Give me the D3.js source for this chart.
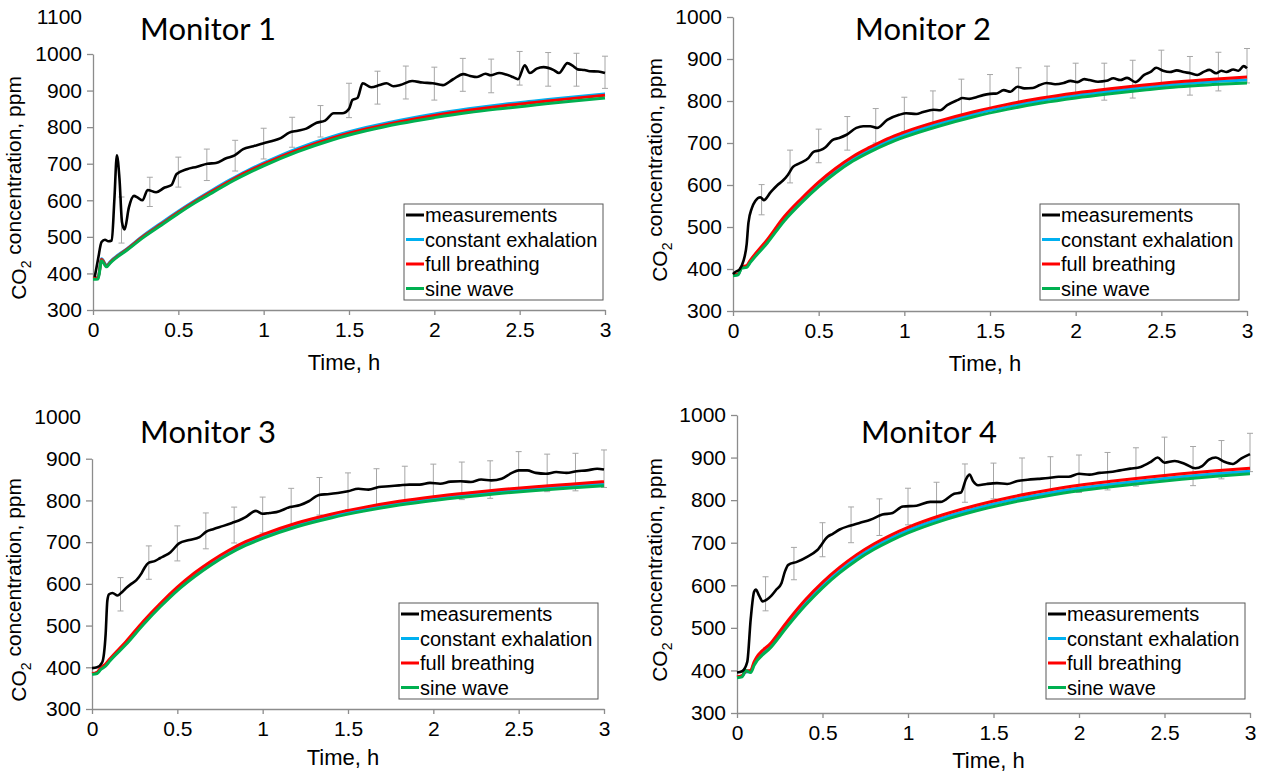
<!DOCTYPE html>
<html>
<head>
<meta charset="utf-8">
<script src="https://cdn.jsdelivr.net/npm/d3@7"></script>
<style>
body { margin: 0; background: #fff; }
svg text { font-family: "Liberation Sans", Arial, sans-serif; }
</style>
</head>
<body>
<div id="chart"></div>
<script>
'use strict';

// model runs share one time grid (h)
let modelTime = [0, 0.03, 0.05, 0.08, 0.1, 0.2, 0.3, 0.4, 0.5, 0.6, 0.7, 0.8, 0.9, 1.0, 1.2, 1.4, 1.6, 1.8, 2.0, 2.2, 2.4, 2.6, 2.8, 3.0];

let constant1 = [387, 388, 440, 422, 432, 468, 505, 538, 570, 600, 628, 655, 680, 702, 742, 774, 799, 819, 836, 850, 862, 872, 882, 891];
let breathing1 = [387, 388, 438, 420, 430, 466, 503, 535, 567, 597, 625, 652, 677, 699, 738, 770, 795, 815, 832, 846, 858, 868, 878, 887];
let sine1 = [384, 385, 435, 418, 428, 464, 500, 532, 564, 594, 621, 648, 672, 694, 733, 765, 790, 810, 826, 840, 851, 861, 871, 880];

let constant2 = [385, 387, 403, 406, 417, 465, 519, 562, 601, 634, 662, 684, 704, 720, 746, 768, 786, 801, 813, 823, 832, 840, 846, 850];
let breathing2 = [386, 388, 405, 408, 420, 470, 525, 568, 607, 640, 668, 690, 710, 726, 752, 774, 792, 807, 819, 829, 838, 846, 852, 857];
let sine2 = [384, 386, 402, 404, 415, 462, 515, 558, 596, 629, 657, 679, 698, 714, 740, 762, 780, 795, 807, 817, 826, 834, 839, 843];

let constant3 = [384, 387, 396, 405, 415, 458, 506, 549, 588, 622, 651, 676, 697, 714, 742, 763, 780, 794, 805, 814, 822, 829, 835, 840];
let breathing3 = [385, 388, 398, 408, 418, 462, 510, 553, 592, 626, 655, 680, 701, 718, 746, 767, 784, 798, 809, 818, 826, 833, 839, 845];
let sine3 = [383, 385, 394, 403, 413, 455, 502, 545, 584, 617, 646, 671, 692, 709, 737, 758, 775, 789, 800, 809, 817, 824, 830, 835];

let constant4 = [384, 387, 396, 398, 416, 460, 512, 559, 600, 635, 665, 690, 711, 729, 758, 781, 800, 815, 828, 838, 847, 855, 862, 868];
let breathing4 = [385, 388, 398, 400, 420, 465, 518, 566, 607, 642, 672, 697, 718, 736, 765, 788, 807, 822, 835, 845, 854, 862, 869, 875];
let sine4 = [383, 385, 400, 395, 412, 455, 506, 553, 594, 629, 659, 684, 705, 723, 752, 775, 794, 809, 822, 832, 841, 849, 856, 862];

// measurements (time h, ppm)
let measTime1 = [0.01, 0.03, 0.05, 0.07, 0.09, 0.11, 0.125, 0.14, 0.155, 0.17, 0.185, 0.21, 0.24, 0.26, 0.29, 0.32, 0.37, 0.42, 0.46, 0.49, 0.55, 0.61, 0.67, 0.72, 0.78, 0.83, 0.88, 0.94, 1.0, 1.05, 1.1, 1.15, 1.2, 1.25, 1.31, 1.36, 1.41, 1.46, 1.5, 1.52, 1.55, 1.58, 1.63, 1.68, 1.72, 1.76, 1.8, 1.87, 1.93, 1.99, 2.05, 2.11, 2.17, 2.21, 2.25, 2.3, 2.33, 2.38, 2.42, 2.46, 2.49, 2.53, 2.56, 2.6, 2.64, 2.7, 2.73, 2.78, 2.81, 2.84, 2.88, 2.91, 2.96, 3.0];
let meas1 = [390, 440, 486, 492, 488, 490, 600, 723, 660, 540, 520, 580, 612, 608, 600, 628, 622, 635, 642, 672, 685, 692, 700, 702, 715, 723, 740, 748, 756, 762, 770, 785, 790, 796, 812, 818, 838, 838, 850, 874, 880, 920, 909, 915, 920, 912, 915, 926, 922, 920, 915, 931, 945, 940, 937, 946, 942, 948, 944, 937, 931, 969, 948, 960, 964, 956, 948, 975, 968, 958, 956, 953, 952, 948];

let measTime2 = [0.0, 0.01, 0.04, 0.06, 0.08, 0.09, 0.11, 0.13, 0.16, 0.18, 0.22, 0.26, 0.29, 0.32, 0.35, 0.39, 0.44, 0.47, 0.51, 0.54, 0.58, 0.62, 0.66, 0.72, 0.76, 0.8, 0.84, 0.9, 0.97, 1.01, 1.07, 1.11, 1.17, 1.21, 1.25, 1.31, 1.34, 1.38, 1.42, 1.46, 1.5, 1.54, 1.58, 1.62, 1.66, 1.7, 1.75, 1.79, 1.83, 1.88, 1.93, 1.97, 2.01, 2.05, 2.08, 2.13, 2.18, 2.22, 2.26, 2.3, 2.35, 2.4, 2.44, 2.47, 2.51, 2.55, 2.59, 2.63, 2.67, 2.71, 2.75, 2.78, 2.82, 2.85, 2.88, 2.92, 2.95, 2.98, 3.0];
let meas2 = [388, 392, 400, 418, 460, 510, 545, 562, 571, 564, 583, 600, 610, 624, 643, 652, 664, 679, 683, 690, 707, 712, 719, 736, 740, 740, 736, 755, 767, 771, 769, 774, 779, 778, 790, 802, 807, 805, 809, 814, 817, 818, 826, 822, 834, 830, 831, 838, 843, 840, 843, 848, 845, 852, 850, 846, 848, 854, 850, 855, 845, 862, 870, 879, 872, 869, 873, 869, 866, 862, 870, 874, 866, 872, 869, 875, 872, 883, 878];

let measTime3 = [0.0, 0.03, 0.06, 0.08, 0.09, 0.1, 0.12, 0.15, 0.17, 0.2, 0.23, 0.26, 0.29, 0.31, 0.33, 0.37, 0.4, 0.43, 0.46, 0.51, 0.57, 0.63, 0.67, 0.71, 0.77, 0.82, 0.86, 0.9, 0.96, 1.0, 1.04, 1.08, 1.16, 1.22, 1.27, 1.33, 1.38, 1.44, 1.5, 1.56, 1.62, 1.68, 1.74, 1.8, 1.86, 1.92, 1.98, 2.04, 2.1, 2.16, 2.22, 2.28, 2.34, 2.4, 2.46, 2.5, 2.55, 2.6, 2.66, 2.72, 2.78, 2.84, 2.9, 2.96, 3.0];
let meas3 = [398, 400, 412, 480, 560, 575, 578, 572, 578, 590, 600, 609, 625, 640, 650, 655, 662, 668, 676, 697, 705, 712, 725, 731, 739, 746, 752, 760, 775, 768, 770, 772, 784, 789, 798, 813, 815, 818, 822, 828, 826, 832, 834, 836, 838, 838, 842, 840, 845, 846, 844, 850, 848, 852, 866, 872, 872, 866, 864, 868, 866, 870, 872, 876, 874];

let measTime4 = [0.0, 0.03, 0.06, 0.08, 0.1, 0.11, 0.13, 0.15, 0.17, 0.2, 0.23, 0.26, 0.28, 0.3, 0.35, 0.41, 0.47, 0.53, 0.56, 0.6, 0.66, 0.72, 0.78, 0.85, 0.91, 0.97, 1.05, 1.13, 1.19, 1.27, 1.31, 1.34, 1.36, 1.38, 1.41, 1.46, 1.52, 1.58, 1.64, 1.7, 1.76, 1.82, 1.88, 1.94, 2.0, 2.06, 2.12, 2.18, 2.24, 2.3, 2.36, 2.42, 2.46, 2.5, 2.56, 2.62, 2.68, 2.72, 2.76, 2.8, 2.85, 2.9, 2.95, 3.0];
let meas4 = [395, 398, 420, 520, 585, 590, 575, 562, 565, 575, 590, 605, 632, 648, 655, 667, 683, 714, 721, 731, 740, 747, 754, 766, 770, 785, 787, 796, 796, 815, 818, 850, 860, 845, 835, 838, 840, 838, 845, 848, 850, 852, 855, 855, 862, 860, 864, 866, 870, 874, 878, 890, 900, 888, 892, 885, 875, 880, 895, 900, 890, 885, 898, 908];

// error bars every 10 min: mean and half range
let errTime = [0.167, 0.333, 0.5, 0.667, 0.833, 1.0, 1.167, 1.333, 1.5, 1.667, 1.833, 2.0, 2.167, 2.333, 2.5, 2.667, 2.833, 3.0];
let errMean1 = [546, 623, 677, 697, 722, 755, 786, 816, 873, 908, 922, 919, 943, 940, 961, 958, 957, 950];
let errHalf1 = [63, 40, 41, 43, 42, 42, 41, 43, 47, 45, 45, 45, 45, 46, 46, 46, 45, 44];
let errMean2 = [565, 644, 693, 723, 741, 768, 781, 807, 821, 837, 840, 850, 846, 852, 877, 860, 870, 884];
let errHalf2 = [36, 39, 40, 40, 41, 41, 43, 45, 42, 42, 43, 40, 44, 45, 44, 46, 46, 41];
let errMean3 = [575, 651, 697, 727, 741, 765, 784, 810, 822, 832, 838, 843, 847, 850, 872, 866, 868, 876];
let errHalf3 = [40, 40, 42, 43, 43, 43, 45, 45, 44, 44, 44, 44, 45, 45, 45, 45, 45, 45];
let errMean4 = [580, 651, 707, 742, 760, 785, 800, 840, 845, 855, 858, 862, 868, 878, 902, 880, 895, 912];
let errHalf4 = [40, 38, 40, 42, 43, 43, 42, 45, 42, 44, 44, 44, 44, 45, 46, 46, 45, 45];

let xTicks = [0, 0.5, 1, 1.5, 2, 2.5, 3];
let seriesNames = ['measurements', 'constant exhalation', 'full breathing', 'sine wave'];
let seriesColors = ['#000000', '#00b0f0', '#ff0000', '#00b050'];

let panels = [
	{title: 'Monitor 1', meas: [measTime1, meas1], models: [constant1, breathing1, sine1], err: [errMean1, errHalf1],
		x0: 93, x1: 605, y300: 310, y1000: 54, axisTop: 1000, extra: 1100,
		titleX: 208, titleY: 40, ylabX: 19, xlabY: 370, legX: 404, legY: 204},
	{title: 'Monitor 2', meas: [measTime2, meas2], models: [constant2, breathing2, sine2], err: [errMean2, errHalf2],
		x0: 733, x1: 1247, y300: 311, y1000: 17, axisTop: 1000, extra: null,
		titleX: 923, titleY: 40, ylabX: 660, xlabY: 371, legX: 1040, legY: 204},
	{title: 'Monitor 3', meas: [measTime3, meas3], models: [constant3, breathing3, sine3], err: [errMean3, errHalf3],
		x0: 92, x1: 604, y300: 709, y1000: 417, axisTop: 900, extra: 1000,
		titleX: 208, titleY: 443, ylabX: 19, xlabY: 765, legX: 399, legY: 603},
	{title: 'Monitor 4', meas: [measTime4, meas4], models: [constant4, breathing4, sine4], err: [errMean4, errHalf4],
		x0: 737, x1: 1250, y300: 713, y1000: 415, axisTop: 1000, extra: null,
		titleX: 929, titleY: 443, ylabX: 660, xlabY: 768, legX: 1046, legY: 603}
];

let svg = d3.select('#chart').append('svg')
	.attr('width', 1261)
	.attr('height', 773);

panels.forEach(p => {
	let g = svg.append('g');
	let x = d3.scaleLinear().domain([0, 3]).range([p.x0, p.x1]);
	let y = d3.scaleLinear().domain([300, 1000]).range([p.y300, p.y1000]);
	let yAxisScale = y.copy().domain([300, p.axisTop]).range([y(300), y(p.axisTop)]);

	// axes
	let xAxis = g.append('g')
		.attr('transform', `translate(0,${p.y300})`)
		.call(d3.axisBottom(x).tickValues(xTicks).tickFormat(d3.format('')).tickSize(5).tickSizeOuter(0).tickPadding(7));
	let yAxis = g.append('g')
		.attr('transform', `translate(${p.x0},0)`)
		.call(d3.axisLeft(yAxisScale).tickValues(d3.range(300, p.axisTop + 1, 100)).tickFormat(d3.format('d')).tickSize(6).tickSizeOuter(0).tickPadding(5));
	[xAxis, yAxis].forEach(a => {
		a.select('.domain').attr('stroke', '#8c8c8c').attr('stroke-width', 1.3);
		a.selectAll('.tick line').attr('stroke', '#8c8c8c').attr('stroke-width', 1.3);
		a.selectAll('.tick text').attr('fill', '#000').style('font-size', '21px');
	});
	if (p.extra) {
		g.append('text')
			.attr('x', p.x0 - 11)
			.attr('y', y(p.extra))
			.attr('dy', '0.32em')
			.attr('text-anchor', 'end')
			.style('font-size', '21px')
			.text(p.extra);
	}

	// axis titles
	g.append('text')
		.attr('x', (p.x0 + p.x1) / 2 - 5)
		.attr('y', p.xlabY)
		.attr('text-anchor', 'middle')
		.style('font-size', '22px')
		.text('Time, h');
	let yl = g.append('text')
		.attr('transform', `translate(${p.ylabX},${(y(300) + y(p.axisTop)) / 2 + 6}) rotate(-90)`)
		.attr('text-anchor', 'middle')
		.attr('dy', '0.35em')
		.style('font-size', '21px');
	yl.append('tspan').text('CO');
	yl.append('tspan').attr('dy', '0.3em').style('font-size', '14px').text('2');
	yl.append('tspan').attr('dy', '-0.45em').text(' concentration, ppm');

	// title
	g.append('text')
		.attr('x', p.titleX)
		.attr('y', p.titleY)
		.attr('text-anchor', 'middle')
		.style('font-family', 'Lato, "Open Sans", sans-serif')
		.style('font-size', '31px')
		.text(p.title);

	// error bars
	let errs = errTime.map((t, i) => ({t: t, m: p.err[0][i], h: p.err[1][i]}));
	let eb = g.append('g').attr('stroke', '#a6a6a6').attr('stroke-width', 1);
	eb.selectAll('line.v').data(errs).join('line').classed('v', true)
		.attr('x1', d => x(d.t)).attr('x2', d => x(d.t))
		.attr('y1', d => y(d.m - d.h)).attr('y2', d => y(d.m + d.h));
	eb.selectAll('line.lo').data(errs).join('line').classed('lo', true)
		.attr('x1', d => x(d.t) - 3).attr('x2', d => x(d.t) + 3)
		.attr('y1', d => y(d.m - d.h)).attr('y2', d => y(d.m - d.h));
	eb.selectAll('line.hi').data(errs).join('line').classed('hi', true)
		.attr('x1', d => x(d.t) - 3).attr('x2', d => x(d.t) + 3)
		.attr('y1', d => y(d.m + d.h)).attr('y2', d => y(d.m + d.h));

	// model curves
	let line = d3.line().x(d => x(d[0])).y(d => y(d[1])).curve(d3.curveMonotoneX);
	p.models.forEach((vals, k) => {
		g.append('path')
			.datum(modelTime.map((t, i) => [t, vals[i]]))
			.attr('fill', 'none')
			.attr('stroke', seriesColors[k + 1])
			.attr('stroke-width', 3)
			.attr('d', line);
	});

	// measurements
	g.append('path')
		.datum(p.meas[0].map((t, i) => [t, p.meas[1][i]]))
		.attr('fill', 'none')
		.attr('stroke', '#000')
		.attr('stroke-width', 2.6)
		.attr('stroke-linejoin', 'round')
		.attr('d', line);

	// legend
	let leg = g.append('g').attr('transform', `translate(${p.legX},${p.legY})`);
	leg.append('rect')
		.attr('width', 199).attr('height', 96)
		.attr('fill', '#fff').attr('stroke', '#595959').attr('stroke-width', 1);
	seriesNames.forEach((name, i) => {
		let ry = 11 + i * 24.5;
		leg.append('line')
			.attr('x1', 2).attr('x2', 20).attr('y1', ry).attr('y2', ry)
			.attr('stroke', seriesColors[i]).attr('stroke-width', 3);
		leg.append('text')
			.attr('x', 21).attr('y', ry).attr('dy', '0.35em')
			.style('font-size', '20px')
			.text(name);
	});
});
</script>
</body>
</html>
